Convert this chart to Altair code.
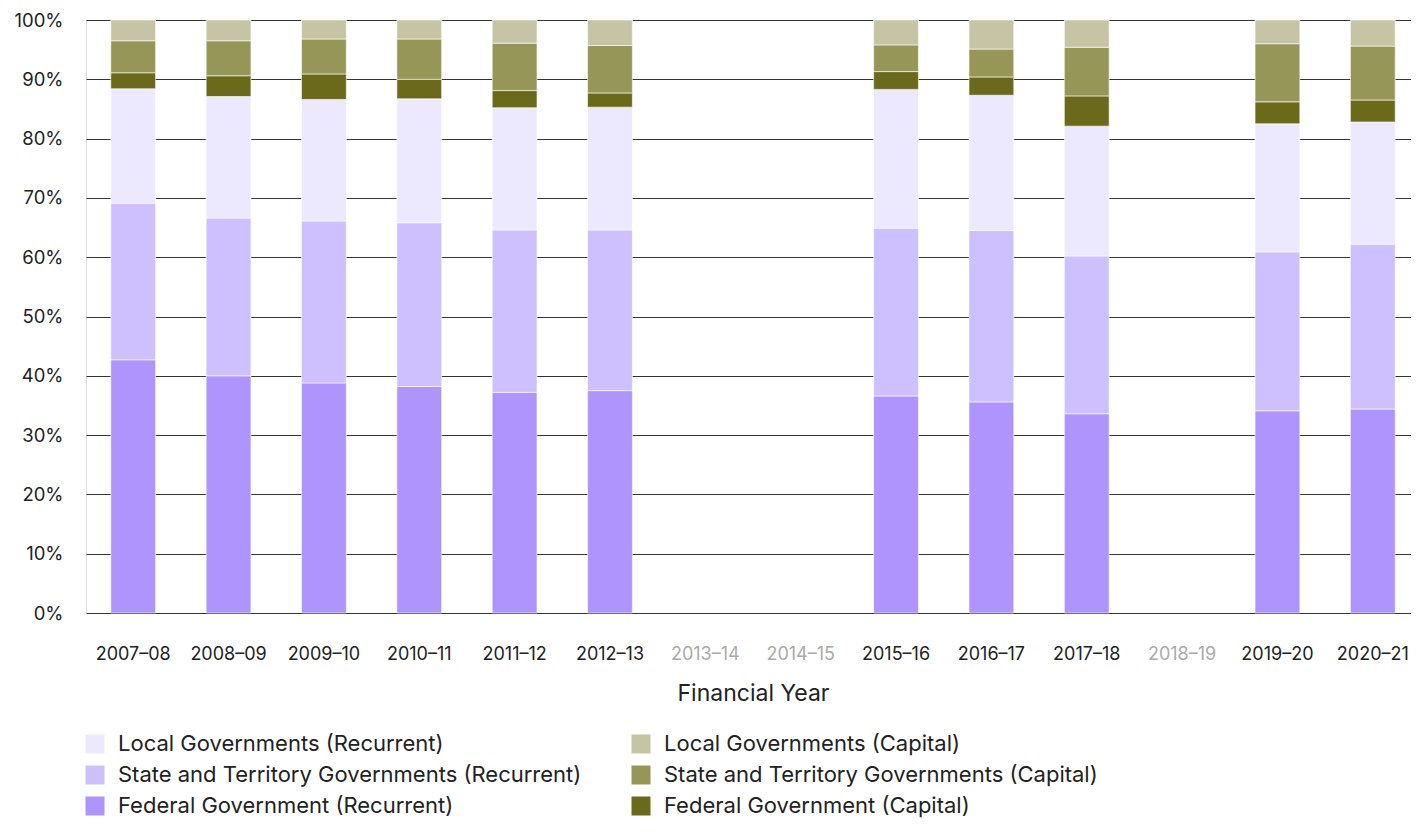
import altair as alt
import pandas as pd

years_all = ["2007–08", "2008–09", "2009–10", "2010–11", "2011–12", "2012–13", "2013–14",
             "2014–15", "2015–16", "2016–17", "2017–18", "2018–19", "2019–20", "2020–21"]
years_data = ["2007–08", "2008–09", "2009–10", "2010–11", "2011–12", "2012–13",
              "2015–16", "2016–17", "2017–18", "2019–20", "2020–21"]
missing_years = ["2013–14", "2014–15", "2018–19"]

fed_rec = [42.7, 40.0, 38.8, 38.2, 37.2, 37.5, 36.6, 35.6, 33.6, 34.1, 34.4]
state_rec = [26.4, 26.6, 27.3, 27.6, 27.4, 27.1, 28.3, 28.9, 26.6, 26.8, 27.8]
local_rec = [19.3, 20.5, 20.5, 20.9, 20.6, 20.7, 23.4, 22.8, 21.9, 21.6, 20.6]
fed_cap = [2.7, 3.5, 4.3, 3.3, 2.9, 2.4, 3.0, 3.1, 5.1, 3.7, 3.7]
state_cap = [5.4, 5.9, 5.9, 6.8, 8.0, 8.0, 4.5, 4.7, 8.2, 9.8, 9.1]
local_cap = [3.5, 3.5, 3.2, 3.2, 3.9, 4.3, 4.2, 4.9, 4.6, 4.0, 4.4]

series_names = [
    "Federal Government (Recurrent)",
    "State and Territory Governments (Recurrent)",
    "Local Governments (Recurrent)",
    "Federal Government (Capital)",
    "State and Territory Governments (Capital)",
    "Local Governments (Capital)",
]
series_values = [fed_rec, state_rec, local_rec, fed_cap, state_cap, local_cap]
series_colors = ["#ae95fe", "#cec0fe", "#ece8fe", "#6b6a1b", "#979659", "#c5c5a5"]

legend_order = [
    "Local Governments (Recurrent)",
    "State and Territory Governments (Recurrent)",
    "Federal Government (Recurrent)",
    "Local Governments (Capital)",
    "State and Territory Governments (Capital)",
    "Federal Government (Capital)",
]
legend_colors = [series_colors[series_names.index(n)] for n in legend_order]

rows = []
for si, (name, vals) in enumerate(zip(series_names, series_values)):
    for y, v in zip(years_data, vals):
        rows.append({"year": y, "series": name, "value": v, "order": si})
df = pd.DataFrame(rows)

FONT = "Inter"
missing_expr = "indexof(" + str(missing_years) + ", datum.value) >= 0 ? '#aaaaaa' : '#222222'"

chart = alt.Chart(df).mark_bar(stroke="white", strokeWidth=0.6).encode(
    x=alt.X("year:N", scale=alt.Scale(domain=years_all, range=[0, 1334],
                                      paddingInner=0.53, paddingOuter=0.26),
            axis=alt.Axis(title="Financial Year", labelAngle=0, ticks=False, domain=False,
                          labelPadding=32, labelFontSize=18, labelFont=FONT,
                          labelColor=alt.expr(missing_expr),
                          titleFont=FONT, titleFontSize=23, titleFontWeight="normal",
                          titleColor="#222222", titlePadding=19)),
    y=alt.Y("value:Q", stack="normalize",
            scale=alt.Scale(domain=[0, 1], nice=False),
            axis=alt.Axis(title=None, format=".0%", values=[i / 10 for i in range(11)],
                          ticks=False, domain=False, labelPadding=23, labelFontSize=18.5,
                          labelFont=FONT, labelColor="#222222",
                          gridColor="#333333", gridWidth=1)),
    color=alt.Color("series:N", scale=alt.Scale(domain=legend_order, range=legend_colors),
                    legend=alt.Legend(title=None, orient="none", legendX=-2, legendY=713,
                                      columns=2, symbolType="square", symbolSize=361,
                                      symbolStrokeWidth=0, labelFont=FONT, labelFontSize=22,
                                      labelColor="#222222", labelOffset=12, labelLimit=700,
                                      columnPadding=48, rowPadding=9)),
    order=alt.Order("order:Q", sort="ascending"),
).properties(
    width=1325, height=593,
    autosize=alt.AutoSizeParams(type="none"),
    padding={"left": 78, "top": 12, "right": 0, "bottom": 207},
).configure_view(stroke=None).configure(background="white")

chart.save("out.html", embed_options={"renderer": "svg", "actions": False})
